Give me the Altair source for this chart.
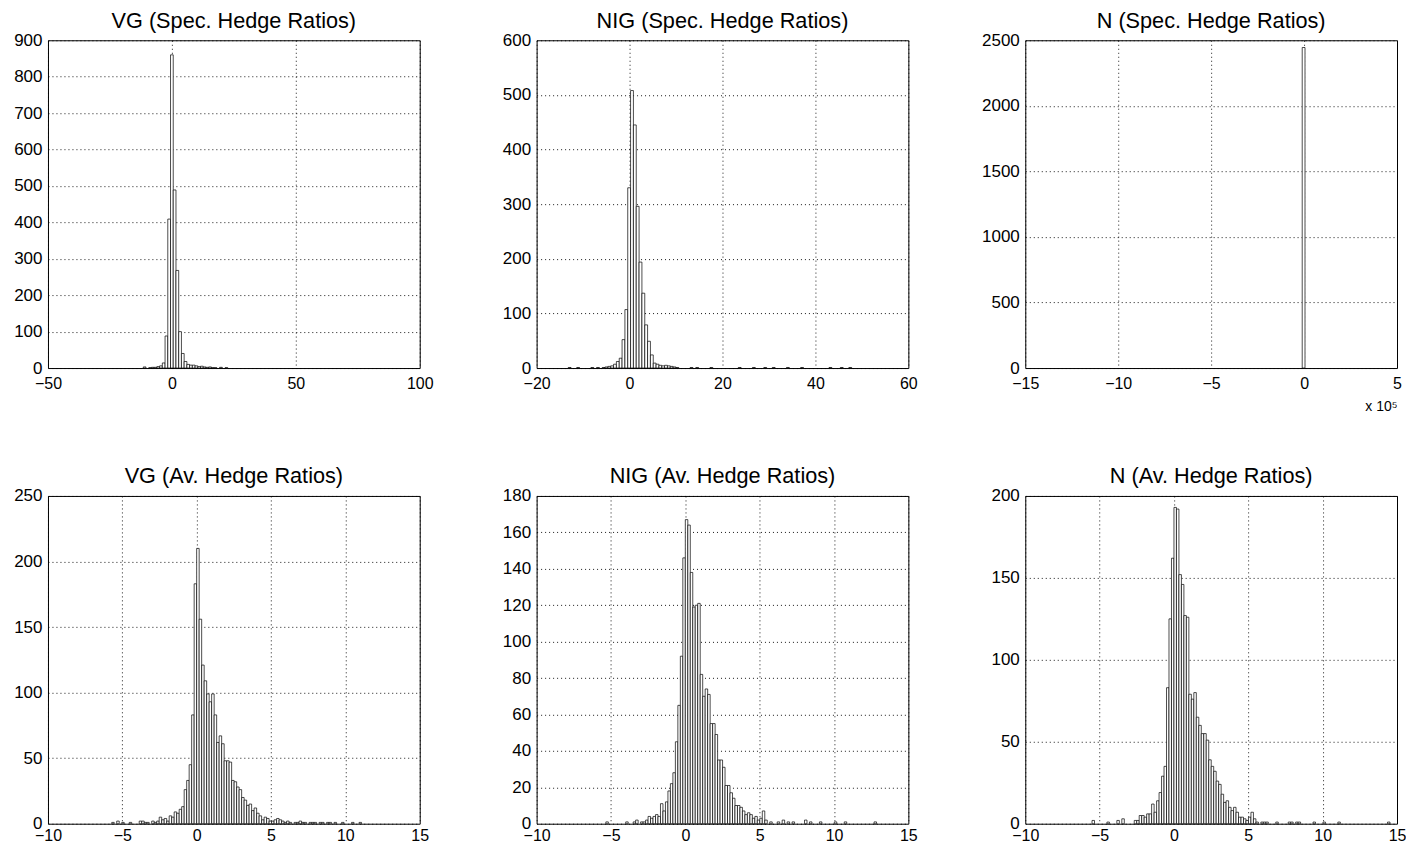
import altair as alt
import pandas as pd

FONT = "Liberation Sans"

# ---------------- data (bin start, bin width, counts per bin) ----------------
vg_spec_start = -11.55
vg_spec_width = 1.1
vg_spec_counts = [3, 0, 1, 2, 2, 4, 6, 14, 88, 409, 860, 489, 268, 100, 40, 18,
                  10, 8, 8, 6, 4, 5, 3, 2, 3, 1, 1, 0, 2, 0, 1]

nig_spec_start = -13.2
nig_spec_width = 0.61
nig_spec_counts = [1, 0, 0, 1, 0, 0, 0, 0, 1, 0, 1, 0, 1, 2, 3, 4, 7, 12, 18, 52,
                   107, 330, 508, 445, 296, 194, 137, 79, 49, 24, 9, 7, 5, 4, 5, 4,
                   3, 2, 1, 0, 0, 0, 0, 1, 0, 1, 0, 0, 0, 0, 1, 0, 0, 0, 0, 0, 0,
                   0, 0, 0, 1, 0, 0, 0, 0, 1, 0, 0, 0, 1, 0, 0, 1, 0, 0, 0, 0, 1,
                   0, 0, 0, 0, 1, 0, 0, 0, 0, 0, 0, 0, 0, 0, 1, 0, 0, 0, 1, 0, 0, 1]

n_spec_start = -0.1          # in units of 1e5
n_spec_width = 0.15
n_spec_counts = [2445]

vg_av_start = -35 * 0.168
vg_av_width = 0.168
vg_av_counts = [0, 1, 0, 2, 0, 1, 0, 0, 1, 0, 0, 0, 2, 2, 1, 1, 0, 2, 1, 2, 5, 3, 4,
                2, 6, 5, 9, 8, 11, 13, 26, 33, 45, 83, 183,
                210, 156, 121, 109, 99, 93, 99, 83, 62, 67, 61, 48, 48, 47, 33, 32,
                28, 26, 20, 18, 14, 15, 10, 12, 8, 6, 3, 5, 4, 2, 2, 3, 4, 3, 2, 1,
                2, 1, 0, 1, 1, 2, 1, 1, 0, 1, 1, 1, 0, 1, 1, 0, 1, 1, 0, 1, 0, 0, 1,
                0, 0, 0, 1, 0, 0, 1]

nig_av_start = -32 * 0.167
nig_av_width = 0.167
nig_av_counts = [1, 0, 0, 0, 0, 0, 0, 0, 1, 0, 0, 1, 2, 0, 1, 1, 2, 4, 3, 4, 5, 4,
                 11, 7, 12, 18, 22, 28, 45, 65, 92, 146,
                 167, 164, 138, 119, 120, 121, 82, 70, 74, 71, 55, 55, 49, 35, 35,
                 31, 21, 21, 17, 14, 10, 10, 9, 7, 5, 6, 5, 3, 4, 2, 3, 7, 2, 0, 1,
                 0, 0, 1, 0, 2, 0, 1, 0, 1, 0, 0, 0, 0, 2, 0, 1, 0, 0, 0, 1, 0, 0, 0,
                 0, 0, 1, 0, 0, 0, 1, 0, 0, 0, 0, 0, 0, 0, 0, 0, 0, 0, 1]

n_av_start = -33 * 0.167
n_av_width = 0.167
n_av_counts = [2, 0, 0, 0, 0, 0, 1, 0, 0, 0, 2, 0, 3, 0, 0, 0, 0, 2, 2, 5, 5, 4, 6,
               6, 12, 7, 14, 19, 29, 35, 83, 125, 162,
               193, 192, 152, 146, 127, 126, 79, 76, 80, 65, 60, 55, 55, 51, 39, 35,
               32, 26, 24, 18, 13, 14, 10, 8, 10, 7, 4, 4, 3, 2, 4, 7, 3, 1, 0, 1, 1,
               1, 0, 0, 0, 1, 0, 0, 0, 0, 1, 1, 0, 1, 1, 0, 0, 0, 0, 0, 1, 0, 0, 0,
               1, 0, 0, 0, 0, 0, 1, 0, 0, 0, 0, 0, 0, 0, 0, 0, 0, 0, 0, 0, 0, 0, 0,
               0, 0, 0, 1]

titles = ["VG (Spec. Hedge Ratios)", "NIG (Spec. Hedge Ratios)", "N (Spec. Hedge Ratios)",
          "VG (Av. Hedge Ratios)", "NIG (Av. Hedge Ratios)", "N (Av. Hedge Ratios)"]
x_ticks = [[-50, 0, 50, 100], [-20, 0, 20, 40, 60], [-15, -10, -5, 0, 5],
           [-10, -5, 0, 5, 10, 15], [-10, -5, 0, 5, 10, 15], [-10, -5, 0, 5, 10, 15]]
y_max = [900, 600, 2500, 250, 180, 200]
y_step = [100, 100, 500, 50, 20, 50]


def make_df(start, width, counts):
    rows = []
    for i, c in enumerate(counts):
        if c > 0:
            rows.append({"x0": start + i * width, "x1": start + (i + 1) * width, "n": c})
    return pd.DataFrame(rows)


dfs = [make_df(vg_spec_start, vg_spec_width, vg_spec_counts),
       make_df(nig_spec_start, nig_spec_width, nig_spec_counts),
       make_df(n_spec_start, n_spec_width, n_spec_counts),
       make_df(vg_av_start, vg_av_width, vg_av_counts),
       make_df(nig_av_start, nig_av_width, nig_av_counts),
       make_df(n_av_start, n_av_width, n_av_counts)]

W = 372
H = 328


def panel(i):
    xt = x_ticks[i]
    xaxis_kwargs = dict(values=xt, format="d", labelFlush=False,
                        labelPadding=7 if i < 3 else 4)
    if i == 2:
        xaxis_kwargs.update(titleAnchor="end", titleAlign="right",
                            titleFontSize=14, titleFontWeight="normal", titlePadding=8,
                            titleFont=FONT, titleColor="black", titleX=W)
        xtitle = "x 10\u2075"
    else:
        xtitle = None
    return alt.Chart(dfs[i], title=titles[i]).mark_rect(
        fill="white", stroke="black", strokeWidth=0.7
    ).encode(
        x=alt.X("x0:Q", title=xtitle,
                scale=alt.Scale(domain=[xt[0], xt[-1]], nice=False, zero=False),
                axis=alt.Axis(**xaxis_kwargs)),
        x2="x1:Q",
        y=alt.Y("n:Q", title=None,
                scale=alt.Scale(domain=[0, y_max[i]], nice=False),
                axis=alt.Axis(values=list(range(0, y_max[i] + 1, y_step[i])), format="d",
                              labelFlush=False)),
        y2=alt.datum(0),
    ).properties(width=W, height=H)


chart = alt.concat(
    *[panel(i) for i in range(6)],
    columns=3, spacing={"row": 128, "column": 117}, bounds="flush"
).properties(
    padding={"left": 5, "top": 1, "right": -1, "bottom": -2}
).configure(
    background="white"
).configure_view(
    stroke="black", strokeWidth=1
).configure_axis(
    grid=True, gridColor="black", gridDash=[1, 3], gridWidth=1, gridOpacity=0.9,
    domain=False, ticks=False,
    labelFont=FONT, labelColor="black",
).configure_axisX(
    labelFontSize=16
).configure_axisY(
    labelPadding=6, labelFontSize=17
).configure_title(
    font=FONT, fontSize=21.7, fontWeight="normal", color="black", offset=-1
)

chart.save("out.html", embed_options={"renderer": "svg", "actions": False})
